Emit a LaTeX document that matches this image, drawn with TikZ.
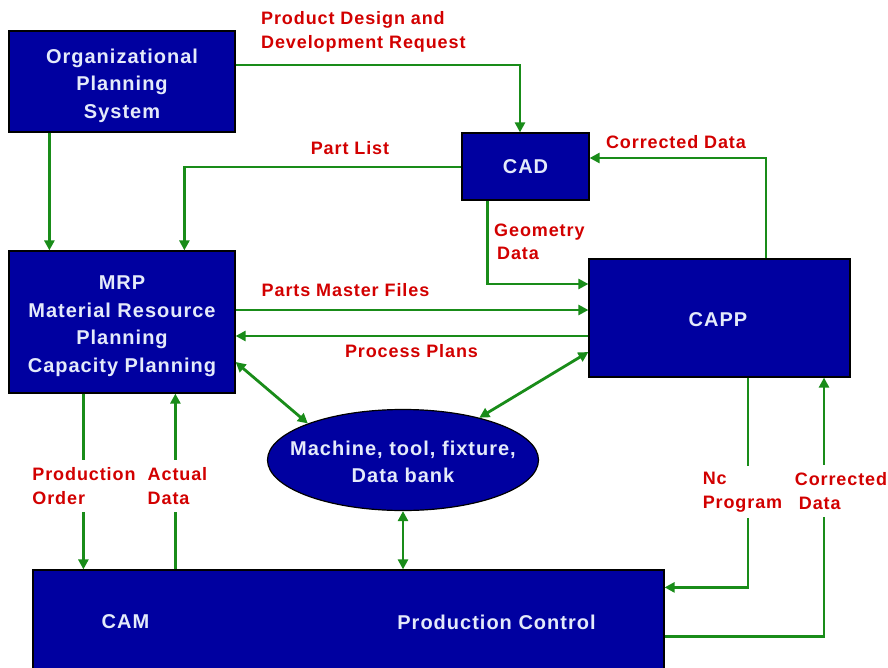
\documentclass[tikz,border=0pt]{standalone}
\usepackage{fontspec}
\setmainfont[LetterSpace=5]{Liberation Sans}
\usetikzlibrary{arrows.meta,shapes.geometric}
\definecolor{boxblue}{RGB}{0,0,160}
\definecolor{boxtext}{RGB}{228,234,250}
\definecolor{lblred}{RGB}{210,0,0}
\definecolor{linegreen}{RGB}{25,140,25}
\begin{document}
\begin{tikzpicture}[x=1pt,y=-1pt,
  blk/.style={draw=black, line width=1.2pt, fill=boxblue, text=boxtext,
    font=\fontsize{20}{28}\selectfont\bfseries, align=center, inner sep=0pt},
  blktext/.style={text=boxtext, font=\fontsize{20}{27.5}\selectfont\bfseries, align=center, inner sep=0pt},
  lbl/.style={text=lblred, font=\fontsize{18}{23.5}\selectfont\bfseries, align=left, inner sep=0pt},
  gaplbl/.style={lbl, fill=white, inner xsep=2pt, minimum height=52pt},
  conn/.style={draw=linegreen, line width=2.8pt, -{Triangle[length=10pt,width=10pt]}},
  bconn/.style={draw=linegreen, line width=2.8pt, {Triangle[length=10pt,width=10pt]}-{Triangle[length=10pt,width=10pt]}}]
\useasboundingbox (0,0) rectangle (888,668);

% boxes
\node[blk, minimum width=226pt, minimum height=101pt,
  label={[blktext, yshift=-4pt]center:Organizational\\Planning\\System}] (org) at (122,81.5) {};
\node[blk, minimum width=127pt, minimum height=67pt] (cad) at (525.5,166.5) {CAD};
\node[blk, minimum width=226pt, minimum height=142pt,
  label={[blktext, yshift=-4pt]center:MRP\\Material Resource\\Planning\\Capacity Planning}] (mrp) at (122,322) {};
\node[blk, minimum width=261pt, minimum height=118pt] (capp) at (719.5,318) {};
\node[blktext] (capptext) at (718,319.5) {CAPP};
\node[blk, ellipse, minimum width=271pt, minimum height=101pt,
  label={[blktext, yshift=-2pt]center:Machine, tool, fixture,\\Data bank}] (db) at (403,460) {};
\node[blk, minimum width=631pt, minimum height=120pt] (bot) at (348.5,630) {};
\node[blktext] (cam) at (125.5,622) {CAM};
\node[blktext] (pc) at (496.5,622) {Production Control};

% top connectors
\draw[conn] ([yshift=16.5pt]org.east) -| ([xshift=-5.5pt]cad.north);
\draw[conn] ([xshift=41pt]org.south west) -- ([xshift=41pt]mrp.north west);
\draw[conn] ([yshift=-0.5pt]cad.west) -| ([xshift=176pt]mrp.north west);
\draw[conn] ([xshift=26pt]cad.south west) |- ([yshift=34pt]capp.west);
\draw[conn] ([xshift=46.5pt]capp.north) |- ([yshift=8.5pt]cad.east);

% MRP <-> CAPP
\coordinate (pm) at ([yshift=12pt]mrp.east);
\coordinate (pp) at ([yshift=-14pt]mrp.east);
\draw[conn] (pm) -- (pm -| capp.west);
\draw[conn] (pp -| capp.west) -- (pp);

% data bank links
\draw[bconn] ([yshift=-40pt]mrp.east) -- (db.159);
\draw[bconn] ([yshift=-34pt]capp.west) -- (db.29);
\draw[bconn] (db.south) -- (db.south |- bot.north);

% MRP <-> CAM
\coordinate (po) at ([xshift=75pt]mrp.south west);
\coordinate (ad) at ([xshift=167pt]mrp.south west);
\draw[conn] (po) -- (po |- bot.north);
\draw[conn] (ad |- bot.north) -- (ad);

% CAPP <-> production control
\coordinate (nc) at ([xshift=28.5pt]capp.south);
\coordinate (cd) at ([xshift=104.5pt]capp.south);
\draw[conn] (nc) |- ([yshift=-18pt]bot.north east);
\draw[conn] ([yshift=-67pt]bot.north east) -| (cd);

% labels
\node[lbl, anchor=west] (l1) at (261,32) {Product Design and\\Development Request};
\node[lbl] (l2) at (350,148) {Part List};
\node[lbl, anchor=west] (l3) at (494,242) {Geometry\\\hspace*{3pt}Data};
\node[lbl] (l4) at (676,142) {Corrected Data};
\node[lbl] (l5) at (345.5,290) {Parts Master Files};
\node[lbl] (l6) at (411.5,351) {Process Plans};
\node[gaplbl] (l7) at (84,486) {Production\\Order};
\node[gaplbl] (l8) at (177.5,486) {Actual\\Data};
\node[gaplbl] (l9) at (742.5,492) {Nc\\Program};
\node[gaplbl] (l10) at (841,491) {Corrected\\\hspace*{4pt}Data};
\end{tikzpicture}
\end{document}
